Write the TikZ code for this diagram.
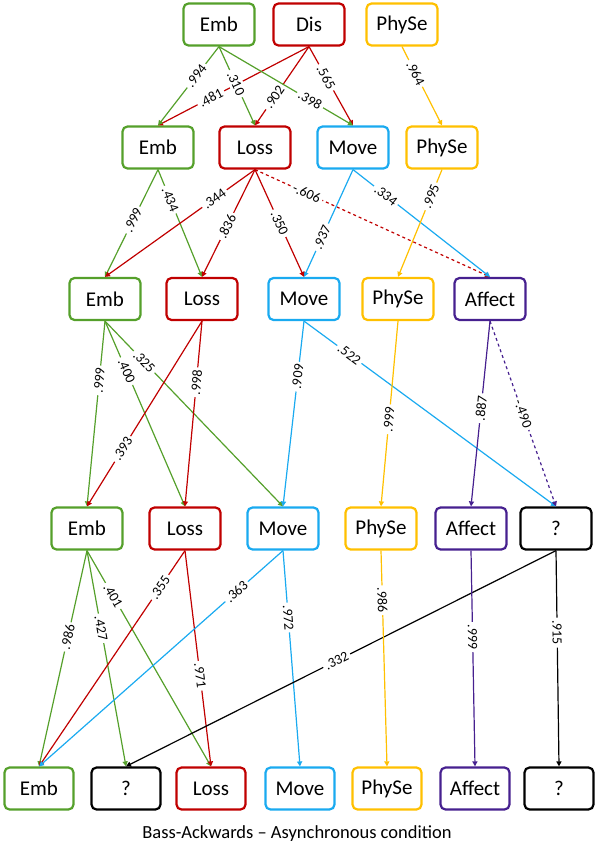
\documentclass[tikz,border=0pt]{standalone}
\usepackage{fontspec}
\setmainfont{Carlito}
\usepackage{xcolor}
\usepackage{tikz}
\usetikzlibrary{arrows.meta,calc}

\definecolor{embc}{HTML}{55A02B}
\definecolor{lossc}{HTML}{C00000}
\definecolor{movec}{HTML}{1AAAF0}
\definecolor{physc}{HTML}{FFC000}
\definecolor{affc}{HTML}{46208F}

\begin{document}
\begin{tikzpicture}[
    x=1pt, y=-1pt,
    every node/.style={align=center, font=\fontsize{21}{23}\selectfont},
    box/.style={draw, line width=2.2pt, rounded corners=5pt, fill=white, minimum width=71pt, minimum height=42pt, inner sep=0pt},
    lastbox/.style={box, minimum width=69pt},
    embbox/.style={box, draw=embc},
    lossbox/.style={box, draw=lossc},
    movebox/.style={box, draw=movec},
    physbox/.style={box, draw=physc},
    affbox/.style={box, draw=affc},
    qbox/.style={box, draw=black},
    link/.style={line width=1.2pt, -{Triangle[length=5pt,width=5pt]}},
    emblink/.style={link, embc},
    losslink/.style={link, lossc},
    movelink/.style={link, movec},
    physlink/.style={link, physc},
    afflink/.style={link, affc},
    qlink/.style={link, black},
    lab/.style={sloped, fill=white, inner sep=2.5pt, text=black, font=\fontsize{14}{15}\selectfont},
]
\useasboundingbox (0,0) rectangle (599,850);

% Row 1
\node[embbox] (emb1) at (219,24.5) {Emb};
\node[lossbox] (dis1) at (309,24.5) {Dis};
\node[physbox] (phy1) at (402,24.5) {PhySe};

% Row 2
\node[embbox] (emb2) at (158,147.5) {Emb};
\node[lossbox] (loss2) at (255,147.5) {Loss};
\node[movebox] (move2) at (353,147.5) {Move};
\node[physbox] (phy2) at (442,147.5) {PhySe};

% Row 3
\node[embbox] (emb3) at (105,299) {Emb};
\node[lossbox] (loss3) at (202,299) {Loss};
\node[movebox] (move3) at (304,299) {Move};
\node[physbox] (phy3) at (398,299) {PhySe};
\node[affbox] (aff3) at (490,299) {Affect};

% Row 4
\node[embbox] (emb4) at (87,528.5) {Emb};
\node[lossbox] (loss4) at (185,528.5) {Loss};
\node[movebox] (move4) at (283,528.5) {Move};
\node[physbox] (phy4) at (381,528.5) {PhySe};
\node[affbox] (aff4) at (471,528.5) {Affect};
\node[qbox] (q4) at (556,528.5) {?};

% Row 5
\node[embbox, lastbox] (emb5) at (39,788.5) {Emb};
\node[qbox, lastbox] (q5a) at (126,788.5) {?};
\node[lossbox, lastbox] (loss5) at (211,788.5) {Loss};
\node[movebox, lastbox] (move5) at (300,788.5) {Move};
\node[physbox, lastbox] (phy5) at (387,788.5) {PhySe};
\node[affbox, lastbox] (aff5) at (475,788.5) {Affect};
\node[qbox, lastbox] (q5b) at (559,788.5) {?};

% Row 1 to row 2
\draw[losslink] (dis1.south) -- node[lab,pos=.65] {.481} (emb2.north);
\draw[losslink] (dis1.south) -- node[lab,pos=.64] {.902} (loss2.north);
\draw[losslink] (dis1.south) -- node[lab,pos=.39] {.565} (move2.north);
\draw[emblink] (emb1.south) -- node[lab,pos=.37] {.994} (emb2.north);
\draw[emblink] (emb1.south) -- node[lab,pos=.47] {.310} (loss2.north);
\draw[emblink] (emb1.south) -- node[lab,pos=.68] {.398} (move2.north);
\draw[physlink] (phy1.south) -- node[lab,pos=.34] {.964} (phy2.north);

% Row 2 to row 3
\draw[losslink, dashed] (loss2.south) -- node[lab,pos=.22] {-.606} (aff3.north);
\draw[movelink] (move2.south) -- node[lab,pos=.63] {.937} (move3.north);
\draw[movelink] (move2.south) -- node[lab,pos=.24] {.334} (aff3.north);
\draw[physlink] (phy2.south) -- node[lab,pos=.25] {.995} (phy3.north);
\draw[emblink] (emb2.south) -- node[lab,pos=.47] {.999} (emb3.north);
\draw[emblink] (emb2.south) -- node[lab,pos=.28] {.434} (loss3.north);
\draw[losslink] (loss2.south) -- node[lab,pos=.27] {.344} (emb3.north);
\draw[losslink] (loss2.south) -- node[lab,pos=.53] {.836} (loss3.north);
\draw[losslink] (loss2.south) -- node[lab,pos=.50] {.350} (move3.north);

% Row 3 to row 4
\draw[emblink] (emb3.south) -- node[lab,pos=.32] {.999} (emb4.north);
\draw[emblink] (emb3.south) -- node[lab,pos=.27] {.400} (loss4.north);
\draw[emblink] (emb3.south) -- node[lab,pos=.22] {.325} (move4.north);
\draw[losslink] (loss3.south) -- node[lab,pos=.69] {.393} (emb4.north);
\draw[losslink] (loss3.south) -- node[lab,pos=.33] {.998} (loss4.north);
\draw[movelink] (move3.south) -- node[lab,pos=.30] {.909} (move4.north);
\draw[movelink] (move3.south) -- node[lab,pos=.18] {.522} (q4.north);
\draw[physlink] (phy3.south) -- node[lab,pos=.53] {.999} (phy4.north);
\draw[afflink] (aff3.south) -- node[lab,pos=.47] {.887} (aff4.north);
\draw[afflink, dashed] (aff3.south) -- node[lab,pos=.50] {-.490} (q4.north);

% Row 4 to row 5
\draw[emblink] (emb4.south) -- node[lab,pos=.40] {.986} (emb5.north);
\draw[emblink] (emb4.south) -- node[lab,pos=.36] {.427} (q5a.north);
\draw[emblink] (emb4.south) -- node[lab,pos=.21] {.401} (loss5.north);
\draw[losslink] (loss4.south) -- node[lab,pos=.17] {.355} (emb5.north);
\draw[losslink] (loss4.south) -- node[lab,pos=.58] {.971} (loss5.north);
\draw[movelink] (move4.south) -- node[lab,pos=.19] {.363} (emb5.north);
\draw[movelink] (move4.south) -- node[lab,pos=.31] {.972} (move5.north);
\draw[qlink] (q4.south) -- node[lab,pos=.51] {.332} (q5a.north);
\draw[qlink] (q4.south) -- node[lab,pos=.38] {.915} (q5b.north);
\draw[physlink] (phy4.south) -- node[lab,pos=.23] {.986} (phy5.north);
\draw[afflink] (aff4.south) -- node[lab,pos=.40] {.999} (aff5.north);

% Caption
\node (caption) at (297,834) {\fontsize{18.5}{20}\selectfont Bass-Ackwards -- Asynchronous condition};

\end{tikzpicture}
\end{document}
